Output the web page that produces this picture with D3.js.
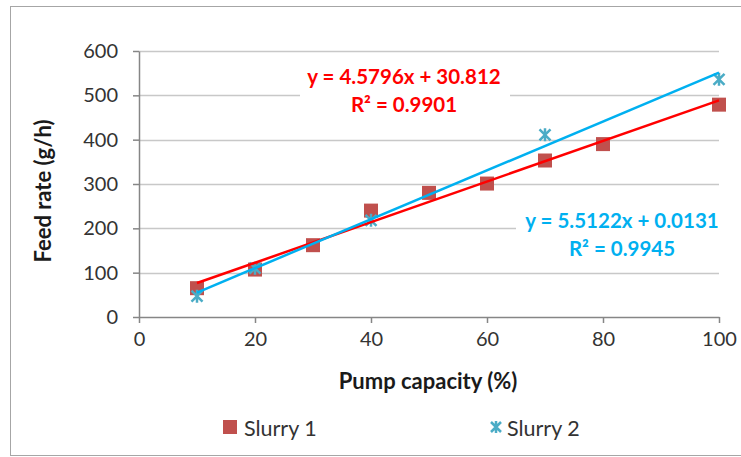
<!DOCTYPE html>
<html>
<head>
<meta charset="utf-8">
<script src="https://cdn.jsdelivr.net/npm/d3@7"></script>
<style>
  html, body { margin: 0; padding: 0; background: #ffffff; }
  svg text { font-family: Lato, "Open Sans", sans-serif; }
</style>
</head>
<body>
<svg id="chart" width="741" height="457"></svg>
<script>
'use strict';

// data
const slurry1X = [10, 20, 30, 40, 50, 60, 70, 80, 100];
const slurry1Y = [65, 107, 162, 240, 280, 301, 353, 390, 479];
const slurry2X = [10, 20, 40, 70, 100];
const slurry2Y = [47, 110, 218, 411, 536];

// trendline equations shown on the chart
const fit1 = { slope: 4.5796, icpt: 30.812, r2: "0.9901" };
const fit2 = { slope: 5.5122, icpt: 0.0131, r2: "0.9945" };

const xTicks = [0, 20, 40, 60, 80, 100];
const yTicks = [0, 100, 200, 300, 400, 500, 600];

const red = "#ff0000";
const blue = "#00b0f0";
const squareCol = "#c0504d";
const crossCol = "#4bacc6";

const svg = d3.select("#chart");

// outer frame
svg.append("rect")
    .attr("x", 10.5).attr("y", 6.5)
    .attr("width", 740).attr("height", 449)
    .attr("fill", "none")
    .attr("stroke", "#a6a6a6");

const x = d3.scaleLinear().domain([0, 100]).range([139, 719]);
const y = d3.scaleLinear().domain([0, 600]).range([317, 51]);

// gridlines
svg.append("g")
    .selectAll("line")
    .data(yTicks.slice(1))
    .enter()
    .append("line")
    .attr("x1", x(0)).attr("x2", x(100))
    .attr("y1", (d) => Math.round(y(d)) + 0.5)
    .attr("y2", (d) => Math.round(y(d)) + 0.5)
    .attr("stroke", "#c8c8c8")
    .attr("stroke-width", 1.5);

// axes
const yAxis = svg.append("g")
    .attr("transform", `translate(${x(0)},0)`)
    .call(d3.axisLeft(y).tickValues(yTicks).tickSizeInner(6).tickSizeOuter(0).tickPadding(15));
const xAxis = svg.append("g")
    .attr("transform", `translate(0,${y(0)})`)
    .call(d3.axisBottom(x).tickValues(xTicks).tickSizeInner(6).tickSizeOuter(0).tickPadding(9));

[yAxis, xAxis].forEach((ax) => {
    ax.select(".domain").attr("stroke", "#868686").attr("stroke-width", 1.5);
    ax.selectAll(".tick line").attr("stroke", "#868686").attr("stroke-width", 1.5);
    ax.selectAll("text")
        .attr("font-family", "Lato, sans-serif")
        .attr("font-size", 20)
        .attr("fill", "#333333");
});

// white boxes behind the equation labels
svg.append("rect").attr("x", 300).attr("y", 60).attr("width", 210).attr("height", 60).attr("fill", "#ffffff");
svg.append("rect").attr("x", 516).attr("y", 205).attr("width", 210).attr("height", 58).attr("fill", "#ffffff");

// trendlines
function trendLine(fit, xs, col) {
    const ends = [d3.min(xs), d3.max(xs)];
    svg.append("line")
        .attr("x1", x(ends[0])).attr("y1", y(fit.slope * ends[0] + fit.icpt))
        .attr("x2", x(ends[1])).attr("y2", y(fit.slope * ends[1] + fit.icpt))
        .attr("stroke", col)
        .attr("stroke-width", 2.5);
}

// slurry 1 squares
const s1 = slurry1X.map((d, i) => [d, slurry1Y[i]]);
svg.append("g")
    .selectAll("rect")
    .data(s1)
    .enter()
    .append("rect")
    .attr("x", (d) => x(d[0]) - 7)
    .attr("y", (d) => y(d[1]) - 7)
    .attr("width", 14).attr("height", 14)
    .attr("fill", squareCol);

// slurry 2 star markers (x plus vertical bar)
function starPath(cx, cy, r) {
    return `M${cx - r},${cy - r}L${cx + r},${cy + r}M${cx - r},${cy + r}L${cx + r},${cy - r}` +
           `M${cx},${cy - r - 1}L${cx},${cy + r + 1}`;
}
const s2 = slurry2X.map((d, i) => [d, slurry2Y[i]]);
svg.append("g")
    .selectAll("path")
    .data(s2)
    .enter()
    .append("path")
    .attr("d", (d) => starPath(x(d[0]), y(d[1]), 5.5))
    .attr("fill", "none")
    .attr("stroke", crossCol)
    .attr("stroke-width", 2.5);

trendLine(fit1, slurry1X, red);
trendLine(fit2, slurry2X, blue);

// equation labels
function eqLabel(fit, cx, top, col) {
    const g = svg.append("g")
        .attr("font-weight", "bold")
        .attr("font-size", 20.5)
        .attr("fill", col)
        .attr("text-anchor", "middle");
    g.append("text").attr("x", cx).attr("y", top)
        .text(`y = ${fit.slope}x + ${fit.icpt}`);
    g.append("text").attr("x", cx).attr("y", top + 28)
        .text(`R² = ${fit.r2}`);
}
eqLabel(fit1, 404, 84, red);
eqLabel(fit2, 622, 228, blue);

// axis titles
svg.append("text")
    .attr("transform", "translate(51,191) rotate(-90)")
    .attr("text-anchor", "middle")
    .attr("font-weight", "bold")
    .attr("font-size", 22)
    .attr("fill", "#1a1a1a")
    .text("Feed rate (g/h)");
svg.append("text")
    .attr("x", 428).attr("y", 389)
    .attr("text-anchor", "middle")
    .attr("font-weight", "bold")
    .attr("font-size", 22)
    .attr("fill", "#1a1a1a")
    .text("Pump capacity (%)");

// legend
const legend = svg.append("g").attr("font-size", 21.5).attr("fill", "#333333");
legend.append("rect").attr("x", 223).attr("y", 420).attr("width", 14).attr("height", 14).attr("fill", squareCol);
legend.append("text").attr("x", 244).attr("y", 436).text("Slurry 1");
legend.append("path").attr("d", starPath(496, 427, 5))
    .attr("fill", "none").attr("stroke", crossCol).attr("stroke-width", 2.5);
legend.append("text").attr("x", 507).attr("y", 436).text("Slurry 2");
</script>
</body>
</html>
